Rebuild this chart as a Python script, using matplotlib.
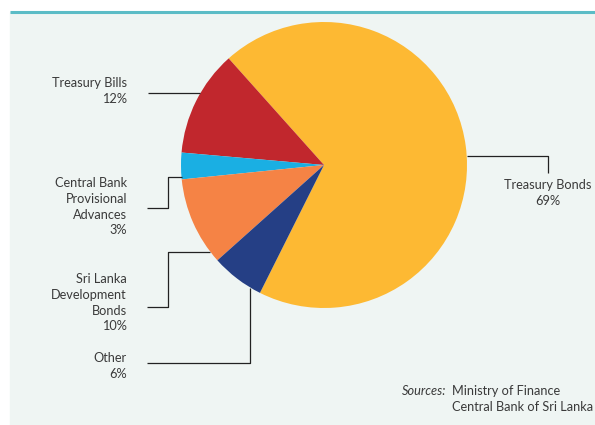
import numpy as np
import matplotlib.pyplot as plt
from matplotlib.patches import Rectangle

# composition of outstanding government debt (per cent)
labels = ["Treasury Bonds", "Treasury Bills", "Central Bank\nProvisional\nAdvances",
          "Sri Lanka\nDevelopment\nBonds", "Other"]
shares = [69, 12, 3, 10, 6]
colors = ["#FDB933", "#C1272D", "#1AAFE3", "#F58345", "#253F85"]

W, H = 595, 425
fig = plt.figure(figsize=(W / 100, H / 100), dpi=100)
ax = fig.add_axes([0, 0, 1, 1])
ax.set_xlim(0, W)
ax.set_ylim(0, H)
ax.set_aspect("equal")
ax.axis("off")


def py(y):
    # pixel rows run downwards, the axes run upwards
    return H - y


ax.add_patch(Rectangle((10, 0), W - 10, py(12), color="#EFF5F3", zorder=0))
ax.plot([10, W], [py(11.5), py(11.5)], color="#5BBCC6", lw=2.2,
        solid_capstyle="butt", zorder=1)

cx, cy, r = 324, py(165), 143
start = 131.8 - shares[0] * 3.6
ax.pie(shares, colors=colors, startangle=start, counterclock=True,
       center=(cx, cy), radius=r, wedgeprops=dict(linewidth=0))
ax.set_xlim(0, W)
ax.set_ylim(0, H)

txt = dict(fontsize=9.2, color="#3a3a3a", family="Lato", linespacing=1.38)
lk = dict(color="#222222", lw=0.9, solid_capstyle="butt")

# leader lines, in pixel coordinates
leaders = [
    [(467, 156), (548, 156), (548, 173)],
    [(200, 93), (148, 93)],
    [(182, 177), (168, 177), (168, 208), (147, 208)],
    [(210, 252), (168, 252), (168, 307), (147, 307)],
    [(250, 288), (250, 363), (147, 363)],
]
for path in leaders:
    xs = [p[0] for p in path]
    ys = [py(p[1]) for p in path]
    ax.plot(xs, ys, **lk)

ax.text(548, py(179), f"{labels[0]}\n{shares[0]}%", ha="center", va="top",
        multialignment="center", **txt)
ax.text(127, py(77), f"{labels[1]}\n{shares[1]}%", ha="right", va="top",
        multialignment="right", **txt)
ax.text(127, py(177), f"{labels[2]}\n{shares[2]}%", ha="right", va="top",
        multialignment="right", **txt)
ax.text(127, py(273), f"{labels[3]}\n{shares[3]}%", ha="right", va="top",
        multialignment="right", **txt)
ax.text(127, py(352), f"{labels[4]}\n{shares[4]}%", ha="right", va="top",
        multialignment="right", **txt)

ax.text(402, py(385), "Sources:", ha="left", va="top", style="italic", **txt)
ax.text(452, py(385), "Ministry of Finance\nCentral Bank of Sri Lanka",
        ha="left", va="top", **txt)

fig.savefig("out.png", dpi=100)
